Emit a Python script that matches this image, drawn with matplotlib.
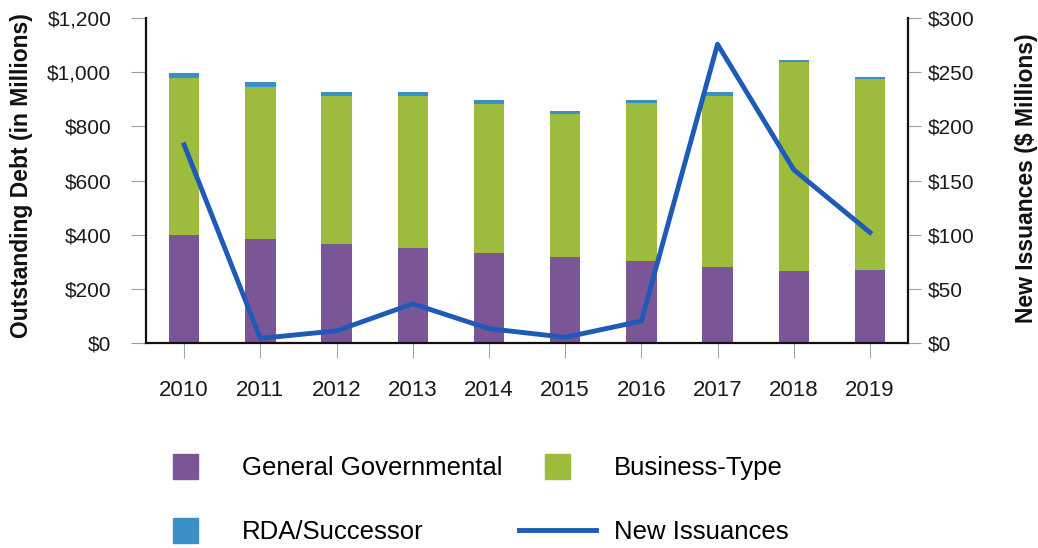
import matplotlib
matplotlib.use("Agg")
import matplotlib.pyplot as plt
from matplotlib.lines import Line2D
import numpy as np

plt.rcParams['font.family'] = ['Liberation Sans', 'DejaVu Sans']

years = ['2010', '2011', '2012', '2013', '2014', '2015', '2016', '2017', '2018', '2019']
general_governmental = [400, 385, 364, 350, 333, 316, 304, 279, 267, 269]
business_type = [581, 561, 547, 561, 550, 530, 583, 635, 773, 707]
rda_successor = [16, 17, 16, 16, 16, 12, 12, 13, 7, 7]
new_issuances = [183, 4, 11, 36, 13, 5, 20, 276, 160, 102]

c_gg = '#7B5696'
c_bt = '#9DBB3C'
c_rda = '#3A8FC8'
c_line = '#1E5BB8'

fig = plt.figure(figsize=(10.38, 5.48), dpi=100)
ax = fig.add_axes([0.1407, 0.3746, 0.7341, 0.592])
x = np.arange(len(years))
w = 0.4
gg = np.array(general_governmental)
bt = np.array(business_type)
rda = np.array(rda_successor)
ax.bar(x, gg, w, color=c_gg, zorder=2)
ax.bar(x, bt, w, bottom=gg, color=c_bt, zorder=2)
ax.bar(x, rda, w, bottom=gg + bt, color=c_rda, zorder=2)
ax.set_xlim(-0.5, 9.5)
ax.set_ylim(0, 1200)
ax.set_yticks(range(0, 1201, 200))
ax.set_yticklabels(['$0', '$200', '$400', '$600', '$800', '$1,000', '$1,200'])
ax.set_xticks(x)
ax.set_xticklabels(years)
ax.tick_params(axis='x', length=11, width=0.8, color='#a0a8a0', pad=16, labelsize=16, labelcolor='#1a1a1a')
ax.tick_params(axis='y', length=11, width=0.8, color='#a0a0a0', pad=14, labelsize=15, labelcolor='#1a1a1a')
ax.spines['top'].set_visible(False)
ax.spines['right'].set_visible(False)
for s in ['left', 'bottom']:
    ax.spines[s].set_linewidth(1.6)
    ax.spines[s].set_color('#111111')

ax2 = ax.twinx()
ax2.plot(x, new_issuances, color=c_line, linewidth=3.5, zorder=3)
ax2.set_ylim(0, 300)
ax2.set_yticks(range(0, 301, 50))
ax2.set_yticklabels(['$0', '$50', '$100', '$150', '$200', '$250', '$300'])
ax2.tick_params(axis='y', length=9, width=0.8, color='#a0a0a0', pad=5, labelsize=15, labelcolor='#1a1a1a')
ax2.spines['top'].set_visible(False)
ax2.spines['left'].set_visible(False)
ax2.spines['bottom'].set_visible(False)
ax2.spines['right'].set_linewidth(1.6)
ax2.spines['right'].set_color('#111111')

fig.text(22 / 1038, 1 - 176 / 548, 'Outstanding Debt (in Millions)', rotation=90,
         ha='center', va='center', fontsize=16.5, fontweight='bold', color='#111111')
fig.text(1026 / 1038, 1 - 178 / 548, 'New Issuances ($ Millions)', rotation=90,
         ha='center', va='center', fontsize=16.5, fontweight='bold', color='#111111')

handles = [
    Line2D([], [], marker='s', linestyle='none', markersize=18, color=c_gg),
    Line2D([], [], marker='s', linestyle='none', markersize=18, color=c_rda),
    Line2D([], [], marker='s', linestyle='none', markersize=18, color=c_bt),
    Line2D([], [], color=c_line, linewidth=3.5),
]
labels = ['General Governmental', 'RDA/Successor', 'Business-Type', 'New Issuances']
fig.legend(handles, labels, ncol=2, loc='upper left', bbox_to_anchor=(146.5 / 1038, 1 - 456 / 548),
           frameon=False, fontsize=18.5, handlelength=3.0, handletextpad=0.7, columnspacing=0.64,
           labelspacing=1.55, borderaxespad=0, borderpad=0)

fig.savefig('out.png', dpi=100)
